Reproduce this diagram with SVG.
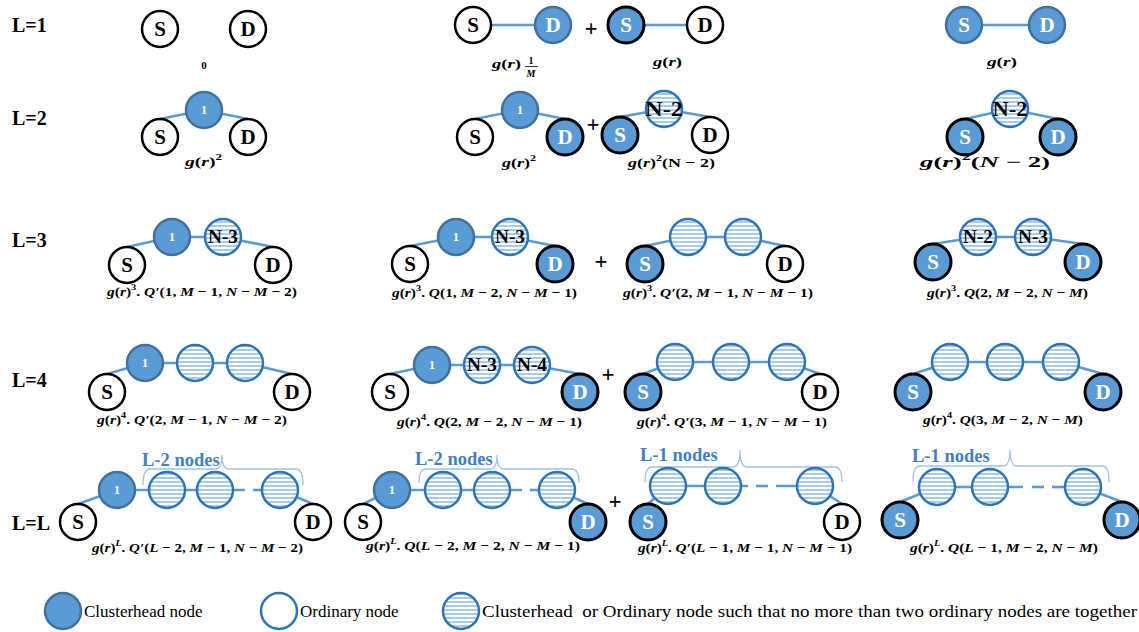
<svg xmlns="http://www.w3.org/2000/svg" width="1139" height="632" viewBox="0 0 1139 632">
<style>
.ch{fill:#5B9BD5;stroke:#41719C;stroke-width:2.5}
.chb{fill:#5B9BD5;stroke:#000;stroke-width:3}
.ob{fill:#fff;stroke:#000;stroke-width:2.5}
.hb{fill:url(#hatch);stroke:#2E75B6;stroke-width:2.5}
.ol{fill:#fff;stroke:#2E75B6;stroke-width:2.5}
#connectors line{stroke:#5B9BD5;stroke-width:2.6}
.brace{fill:none;stroke:#9DC3E6;stroke-width:1.3}
.nt{font-family:"Liberation Serif",serif;font-weight:bold;font-size:21px;text-anchor:middle;fill:#000}
.w{fill:#fff}
.one{font-family:"Liberation Serif",serif;font-weight:bold;font-size:12px;text-anchor:middle;fill:#fff}
.nl{font-family:"Liberation Serif",serif;font-weight:bold;font-size:18px;text-anchor:middle;fill:#000}
.nl2{font-family:"Liberation Serif",serif;font-weight:bold;font-size:20px;text-anchor:middle;fill:#000}
.m{font-family:"Liberation Serif",serif;font-weight:bold;font-size:13.5px;fill:#000}
.i{font-style:italic}
.row{font-family:"Liberation Serif",serif;font-weight:bold;font-size:20px;fill:#000}
.plus{font-family:"Liberation Serif",serif;font-weight:bold;font-size:23px;text-anchor:middle;fill:#000}
.bt{font-family:"Liberation Serif",serif;font-weight:bold;font-size:18.5px;fill:#3F80C6}
.leg{font-family:"Liberation Serif",serif;font-size:17px;fill:#000}
</style>
<defs>
<pattern id="hatch" width="6" height="4" patternUnits="userSpaceOnUse">
<rect width="6" height="4" fill="#fff"/>
<line x1="0" y1="2" x2="6" y2="2" stroke="#8DB8E2" stroke-width="1.5"/>
</pattern>
</defs>
<rect width="1139" height="632" fill="#fff"/>

<g id="row-labels">
<text class="row" x="12" y="32">L=1</text>
<text class="row" x="12" y="125">L=2</text>
<text class="row" x="12" y="247">L=3</text>
<text class="row" x="12" y="387">L=4</text>
<text class="row" x="12" y="530">L=L</text>
</g>

<g id="connectors">
<line x1="473" y1="25" x2="553" y2="25"/>
<line x1="626" y1="25" x2="705" y2="25"/>
<line x1="964" y1="25" x2="1047" y2="25"/>
<line x1="160" y1="119" x2="204" y2="110"/>
<line x1="204" y1="110" x2="248" y2="119"/>
<line x1="475" y1="119" x2="520" y2="110"/>
<line x1="520" y1="110" x2="565" y2="119"/>
<line x1="620" y1="117" x2="664" y2="109"/>
<line x1="664" y1="109" x2="710" y2="117"/>
<line x1="965" y1="119" x2="1010" y2="109"/>
<line x1="1010" y1="109" x2="1058" y2="119"/>
<line x1="127" y1="247" x2="172" y2="237"/>
<line x1="172" y1="237" x2="223" y2="237"/>
<line x1="223" y1="237" x2="273" y2="247"/>
<line x1="410" y1="246" x2="456" y2="237"/>
<line x1="456" y1="237" x2="510" y2="237"/>
<line x1="510" y1="237" x2="555" y2="246"/>
<line x1="645" y1="246" x2="688" y2="237"/>
<line x1="688" y1="237" x2="743" y2="237"/>
<line x1="743" y1="237" x2="785" y2="246"/>
<line x1="933" y1="244" x2="978" y2="237"/>
<line x1="978" y1="237" x2="1033" y2="237"/>
<line x1="1033" y1="237" x2="1083" y2="244"/>
<line x1="107" y1="374" x2="145" y2="363"/>
<line x1="145" y1="363" x2="245" y2="363"/>
<line x1="245" y1="363" x2="292" y2="374"/>
<line x1="390" y1="374" x2="432" y2="365"/>
<line x1="432" y1="365" x2="532" y2="365"/>
<line x1="532" y1="365" x2="580" y2="374"/>
<line x1="643" y1="374" x2="675" y2="362"/>
<line x1="675" y1="362" x2="787" y2="362"/>
<line x1="787" y1="362" x2="820" y2="374"/>
<line x1="913" y1="374" x2="950" y2="362"/>
<line x1="950" y1="362" x2="1061" y2="362"/>
<line x1="1061" y1="362" x2="1103" y2="374"/>
<line x1="78" y1="504" x2="117" y2="490"/>
<line x1="117" y1="490" x2="245" y2="490"/>
<line x1="253" y1="490" x2="280" y2="490"/>
<line x1="280" y1="490" x2="313" y2="504"/>
<line x1="363" y1="504" x2="392" y2="490"/>
<line x1="392" y1="490" x2="522" y2="490"/>
<line x1="530" y1="490" x2="557" y2="490"/>
<line x1="557" y1="490" x2="588" y2="504"/>
<line x1="648" y1="504" x2="668" y2="486"/>
<line x1="668" y1="486" x2="748" y2="486"/>
<line x1="756" y1="486" x2="768" y2="486"/>
<line x1="776" y1="486" x2="815" y2="486"/>
<line x1="815" y1="486" x2="842" y2="504"/>
<line x1="900" y1="502" x2="937" y2="487"/>
<line x1="937" y1="487" x2="1023" y2="487"/>
<line x1="1032" y1="487" x2="1044" y2="487"/>
<line x1="1052" y1="487" x2="1083" y2="487"/>
<line x1="1083" y1="487" x2="1122" y2="502"/>
</g>

<g id="braces">
<path class="brace" d="M143,485 Q143,469 150,469 H215 Q222,469 222,455 Q222,469 229,469 H296 Q303,469 303,485"/>
<text class="bt" x="142" y="466">L-2 nodes</text>
<path class="brace" d="M419,483 Q419,469 426,469 H490 Q497,469 497,455 Q497,469 504,469 H572 Q579,469 579,483"/>
<text class="bt" x="415" y="465">L-2 nodes</text>
<path class="brace" d="M645,482 Q645,467 652,467 H733 Q740,467 740,450 Q740,467 747,467 H835 Q842,467 842,482"/>
<text class="bt" x="640" y="461">L-1 nodes</text>
<path class="brace" d="M913,482 Q913,466 920,466 H1003 Q1010,466 1010,450 Q1010,466 1017,466 H1102 Q1109,466 1109,482"/>
<text class="bt" x="912" y="462">L-1 nodes</text>
</g>

<g id="l1a-S"><circle class="ob" cx="160" cy="29" r="18"/><text class="nt" x="160" y="36">S</text></g>
<g id="l1a-D"><circle class="ob" cx="248" cy="29" r="18"/><text class="nt" x="248" y="36">D</text></g>
<g id="l1b-S"><circle class="ob" cx="473" cy="25" r="18"/><text class="nt" x="473" y="32">S</text></g>
<g id="l1b-D"><circle class="ch" cx="553" cy="25" r="18"/><text class="nt w" x="553" y="32">D</text></g>
<g id="l1c-S"><circle class="chb" cx="626" cy="25" r="18"/><text class="nt w" x="626" y="32">S</text></g>
<g id="l1c-D"><circle class="ob" cx="705" cy="25" r="18"/><text class="nt" x="705" y="32">D</text></g>
<g id="l1d-S"><circle class="ch" cx="964" cy="25" r="18"/><text class="nt w" x="964" y="32">S</text></g>
<g id="l1d-D"><circle class="ch" cx="1047" cy="25" r="18"/><text class="nt w" x="1047" y="32">D</text></g>

<g id="l2a-S"><circle class="ob" cx="160" cy="137" r="18"/><text class="nt" x="160" y="144">S</text></g>
<g id="l2a-1"><circle class="ch" cx="204" cy="110" r="18"/><text class="one" x="204" y="114">1</text></g>
<g id="l2a-D"><circle class="ob" cx="248" cy="137" r="18"/><text class="nt" x="248" y="144">D</text></g>
<g id="l2b-S"><circle class="ob" cx="475" cy="137" r="18"/><text class="nt" x="475" y="144">S</text></g>
<g id="l2b-1"><circle class="ch" cx="520" cy="110" r="18"/><text class="one" x="520" y="114">1</text></g>
<g id="l2b-D"><circle class="chb" cx="565" cy="137" r="18"/><text class="nt w" x="565" y="144">D</text></g>
<g id="l2c-S"><circle class="chb" cx="620" cy="135" r="18"/><text class="nt w" x="620" y="142">S</text></g>
<g id="l2c-N"><circle class="hb" cx="664" cy="109" r="18"/><text class="nl2" x="664" y="116" textLength="38" lengthAdjust="spacingAndGlyphs">N-2</text></g>
<g id="l2c-D"><circle class="ob" cx="710" cy="135" r="18"/><text class="nt" x="710" y="142">D</text></g>
<g id="l2d-S"><circle class="chb" cx="965" cy="137" r="18"/><text class="nt w" x="965" y="144">S</text></g>
<g id="l2d-N"><circle class="hb" cx="1010" cy="109" r="18"/><text class="nl2" x="1010" y="116" textLength="35" lengthAdjust="spacingAndGlyphs">N-2</text></g>
<g id="l2d-D"><circle class="chb" cx="1058" cy="137" r="18"/><text class="nt w" x="1058" y="144">D</text></g>

<g id="l3a-S"><circle class="ob" cx="127" cy="265" r="18"/><text class="nt" x="127" y="272">S</text></g>
<g id="l3a-1"><circle class="ch" cx="172" cy="237" r="18"/><text class="one" x="172" y="241">1</text></g>
<g id="l3a-N"><circle class="hb" cx="223" cy="237" r="18"/><text class="nl" x="223" y="243" textLength="30" lengthAdjust="spacingAndGlyphs">N-3</text></g>
<g id="l3a-D"><circle class="ob" cx="273" cy="265" r="18"/><text class="nt" x="273" y="272">D</text></g>
<g id="l3b-S"><circle class="ob" cx="410" cy="264" r="18"/><text class="nt" x="410" y="271">S</text></g>
<g id="l3b-1"><circle class="ch" cx="456" cy="237" r="18"/><text class="one" x="456" y="241">1</text></g>
<g id="l3b-N"><circle class="hb" cx="510" cy="237" r="18"/><text class="nl" x="510" y="243" textLength="30" lengthAdjust="spacingAndGlyphs">N-3</text></g>
<g id="l3b-D"><circle class="chb" cx="555" cy="264" r="18"/><text class="nt w" x="555" y="271">D</text></g>
<g id="l3c-S"><circle class="chb" cx="645" cy="264" r="18"/><text class="nt w" x="645" y="271">S</text></g>
<g id="l3c-h1"><circle class="hb" cx="688" cy="237" r="18"/></g>
<g id="l3c-h2"><circle class="hb" cx="743" cy="237" r="18"/></g>
<g id="l3c-D"><circle class="ob" cx="785" cy="264" r="18"/><text class="nt" x="785" y="271">D</text></g>
<g id="l3d-S"><circle class="chb" cx="933" cy="262" r="18"/><text class="nt w" x="933" y="269">S</text></g>
<g id="l3d-N2"><circle class="hb" cx="978" cy="237" r="18"/><text class="nl" x="978" y="243" textLength="30" lengthAdjust="spacingAndGlyphs">N-2</text></g>
<g id="l3d-N3"><circle class="hb" cx="1033" cy="237" r="18"/><text class="nl" x="1033" y="243" textLength="30" lengthAdjust="spacingAndGlyphs">N-3</text></g>
<g id="l3d-D"><circle class="chb" cx="1083" cy="262" r="18"/><text class="nt w" x="1083" y="269">D</text></g>

<g id="l4a-S"><circle class="ob" cx="107" cy="392" r="18"/><text class="nt" x="107" y="399">S</text></g>
<g id="l4a-1"><circle class="ch" cx="145" cy="363" r="18"/><text class="one" x="145" y="367">1</text></g>
<g id="l4a-h1"><circle class="hb" cx="195" cy="363" r="18"/></g>
<g id="l4a-h2"><circle class="hb" cx="245" cy="363" r="18"/></g>
<g id="l4a-D"><circle class="ob" cx="292" cy="392" r="18"/><text class="nt" x="292" y="399">D</text></g>
<g id="l4b-S"><circle class="ob" cx="390" cy="392" r="18"/><text class="nt" x="390" y="399">S</text></g>
<g id="l4b-1"><circle class="ch" cx="432" cy="365" r="18"/><text class="one" x="432" y="369">1</text></g>
<g id="l4b-N3"><circle class="hb" cx="482" cy="365" r="18"/><text class="nl" x="482" y="371" textLength="30" lengthAdjust="spacingAndGlyphs">N-3</text></g>
<g id="l4b-N4"><circle class="hb" cx="532" cy="365" r="18"/><text class="nl" x="532" y="371" textLength="30" lengthAdjust="spacingAndGlyphs">N-4</text></g>
<g id="l4b-D"><circle class="chb" cx="580" cy="392" r="18"/><text class="nt w" x="580" y="399">D</text></g>
<g id="l4c-S"><circle class="chb" cx="643" cy="392" r="18"/><text class="nt w" x="643" y="399">S</text></g>
<g id="l4c-h1"><circle class="hb" cx="675" cy="362" r="18"/></g>
<g id="l4c-h2"><circle class="hb" cx="731" cy="362" r="18"/></g>
<g id="l4c-h3"><circle class="hb" cx="787" cy="362" r="18"/></g>
<g id="l4c-D"><circle class="ob" cx="820" cy="392" r="18"/><text class="nt" x="820" y="399">D</text></g>
<g id="l4d-S"><circle class="chb" cx="913" cy="392" r="18"/><text class="nt w" x="913" y="399">S</text></g>
<g id="l4d-h1"><circle class="hb" cx="950" cy="362" r="18"/></g>
<g id="l4d-h2"><circle class="hb" cx="1005" cy="362" r="18"/></g>
<g id="l4d-h3"><circle class="hb" cx="1061" cy="362" r="18"/></g>
<g id="l4d-D"><circle class="chb" cx="1103" cy="392" r="18"/><text class="nt w" x="1103" y="399">D</text></g>

<g id="lLa-S"><circle class="ob" cx="78" cy="522" r="18"/><text class="nt" x="78" y="529">S</text></g>
<g id="lLa-1"><circle class="ch" cx="117" cy="490" r="18"/><text class="one" x="117" y="494">1</text></g>
<g id="lLa-h1"><circle class="hb" cx="167" cy="490" r="18"/></g>
<g id="lLa-h2"><circle class="hb" cx="215" cy="490" r="18"/></g>
<g id="lLa-h3"><circle class="hb" cx="280" cy="490" r="18"/></g>
<g id="lLa-D"><circle class="ob" cx="313" cy="522" r="18"/><text class="nt" x="313" y="529">D</text></g>
<g id="lLb-S"><circle class="ob" cx="363" cy="522" r="18"/><text class="nt" x="363" y="529">S</text></g>
<g id="lLb-1"><circle class="ch" cx="392" cy="490" r="18"/><text class="one" x="392" y="494">1</text></g>
<g id="lLb-h1"><circle class="hb" cx="443" cy="490" r="18"/></g>
<g id="lLb-h2"><circle class="hb" cx="492" cy="490" r="18"/></g>
<g id="lLb-h3"><circle class="hb" cx="557" cy="490" r="18"/></g>
<g id="lLb-D"><circle class="chb" cx="588" cy="522" r="18"/><text class="nt w" x="588" y="529">D</text></g>
<g id="lLc-S"><circle class="chb" cx="648" cy="522" r="18"/><text class="nt w" x="648" y="529">S</text></g>
<g id="lLc-h1"><circle class="hb" cx="668" cy="486" r="18"/></g>
<g id="lLc-h2"><circle class="hb" cx="723" cy="486" r="18"/></g>
<g id="lLc-h3"><circle class="hb" cx="815" cy="486" r="18"/></g>
<g id="lLc-D"><circle class="ob" cx="842" cy="522" r="18"/><text class="nt" x="842" y="529">D</text></g>
<g id="lLd-S"><circle class="chb" cx="900" cy="520" r="18"/><text class="nt w" x="900" y="527">S</text></g>
<g id="lLd-h1"><circle class="hb" cx="937" cy="487" r="18"/></g>
<g id="lLd-h2"><circle class="hb" cx="990" cy="487" r="18"/></g>
<g id="lLd-h3"><circle class="hb" cx="1083" cy="487" r="18"/></g>
<g id="lLd-D"><circle class="chb" cx="1122" cy="520" r="18"/><text class="nt w" x="1122" y="527">D</text></g>

<g id="plus-signs">
<text class="plus" x="591" y="36">+</text>
<text class="plus" x="593" y="132">+</text>
<text class="plus" x="601" y="269">+</text>
<text class="plus" x="608" y="382">+</text>
<text class="plus" x="615" y="509">+</text>
</g>

<g id="formulas">
<text class="m" x="204" y="69" text-anchor="middle" style="font-size:11px">0</text>
<text class="m" x="492" y="68" textLength="29" lengthAdjust="spacingAndGlyphs"><tspan class="i">g</tspan>(<tspan class="i">r</tspan>)</text>
<text class="m" x="531" y="64" text-anchor="middle" style="font-size:10px">1</text>
<line x1="525" y1="66.5" x2="538" y2="66.5" stroke="#000" stroke-width="0.8"/>
<text class="m" x="531" y="77" text-anchor="middle" style="font-size:10px"><tspan class="i">M</tspan></text>
<text class="m" x="653" y="66" textLength="29" lengthAdjust="spacingAndGlyphs"><tspan class="i">g</tspan>(<tspan class="i">r</tspan>)</text>
<text class="m" x="987" y="66" textLength="30" lengthAdjust="spacingAndGlyphs"><tspan class="i">g</tspan>(<tspan class="i">r</tspan>)</text>

<text class="m" x="185" y="166" textLength="37" lengthAdjust="spacingAndGlyphs"><tspan class="i">g</tspan>(<tspan class="i">r</tspan>)<tspan font-size="9" dy="-6">2</tspan></text>
<text class="m" x="502" y="167" textLength="34" lengthAdjust="spacingAndGlyphs"><tspan class="i">g</tspan>(<tspan class="i">r</tspan>)<tspan font-size="9" dy="-6">2</tspan></text>
<text class="m" x="628" y="167" textLength="87" lengthAdjust="spacingAndGlyphs"><tspan class="i">g</tspan>(<tspan class="i">r</tspan>)<tspan font-size="9" dy="-6">2</tspan><tspan dy="6">(N − 2)</tspan></text>
<text class="m" x="920" y="167" style="font-size:15px" textLength="130" lengthAdjust="spacingAndGlyphs"><tspan class="i">g</tspan>(<tspan class="i">r</tspan>)<tspan font-size="10" dy="-7">2</tspan><tspan dy="7">(</tspan><tspan class="i">N</tspan> − 2)</text>

<text class="m" x="107" y="296" textLength="190" lengthAdjust="spacingAndGlyphs"><tspan class="i">g</tspan>(<tspan class="i">r</tspan>)<tspan font-size="9" dy="-6">3</tspan><tspan dy="6">. </tspan><tspan class="i">Q′</tspan>(1, <tspan class="i">M</tspan> − 1, <tspan class="i">N</tspan> − <tspan class="i">M</tspan> − 2)</text>
<text class="m" x="392" y="297" textLength="185" lengthAdjust="spacingAndGlyphs"><tspan class="i">g</tspan>(<tspan class="i">r</tspan>)<tspan font-size="9" dy="-6">3</tspan><tspan dy="6">. </tspan><tspan class="i">Q</tspan>(1, <tspan class="i">M</tspan> − 2, <tspan class="i">N</tspan> − <tspan class="i">M</tspan> − 1)</text>
<text class="m" x="623" y="297" textLength="190" lengthAdjust="spacingAndGlyphs"><tspan class="i">g</tspan>(<tspan class="i">r</tspan>)<tspan font-size="9" dy="-6">3</tspan><tspan dy="6">. </tspan><tspan class="i">Q′</tspan>(2, <tspan class="i">M</tspan> − 1, <tspan class="i">N</tspan> − <tspan class="i">M</tspan> − 1)</text>
<text class="m" x="927" y="297" textLength="161" lengthAdjust="spacingAndGlyphs"><tspan class="i">g</tspan>(<tspan class="i">r</tspan>)<tspan font-size="9" dy="-6">3</tspan><tspan dy="6">. </tspan><tspan class="i">Q</tspan>(2, <tspan class="i">M</tspan> − 2, <tspan class="i">N</tspan> − <tspan class="i">M</tspan>)</text>

<text class="m" x="97" y="424" textLength="190" lengthAdjust="spacingAndGlyphs"><tspan class="i">g</tspan>(<tspan class="i">r</tspan>)<tspan font-size="9" dy="-6">4</tspan><tspan dy="6">. </tspan><tspan class="i">Q′</tspan>(2, <tspan class="i">M</tspan> − 1, <tspan class="i">N</tspan> − <tspan class="i">M</tspan> − 2)</text>
<text class="m" x="397" y="426" textLength="185" lengthAdjust="spacingAndGlyphs"><tspan class="i">g</tspan>(<tspan class="i">r</tspan>)<tspan font-size="9" dy="-6">4</tspan><tspan dy="6">. </tspan><tspan class="i">Q</tspan>(2, <tspan class="i">M</tspan> − 2, <tspan class="i">N</tspan> − <tspan class="i">M</tspan> − 1)</text>
<text class="m" x="637" y="426" textLength="190" lengthAdjust="spacingAndGlyphs"><tspan class="i">g</tspan>(<tspan class="i">r</tspan>)<tspan font-size="9" dy="-6">4</tspan><tspan dy="6">. </tspan><tspan class="i">Q′</tspan>(3, <tspan class="i">M</tspan> − 1, <tspan class="i">N</tspan> − <tspan class="i">M</tspan> − 1)</text>
<text class="m" x="923" y="424" textLength="160" lengthAdjust="spacingAndGlyphs"><tspan class="i">g</tspan>(<tspan class="i">r</tspan>)<tspan font-size="9" dy="-6">4</tspan><tspan dy="6">. </tspan><tspan class="i">Q</tspan>(3, <tspan class="i">M</tspan> − 2, <tspan class="i">N</tspan> − <tspan class="i">M</tspan>)</text>

<text class="m" x="92" y="552" textLength="211" lengthAdjust="spacingAndGlyphs"><tspan class="i">g</tspan>(<tspan class="i">r</tspan>)<tspan class="i" font-size="9" dy="-6">L</tspan><tspan dy="6">. </tspan><tspan class="i">Q′</tspan>(<tspan class="i">L</tspan> − 2, <tspan class="i">M</tspan> − 1, <tspan class="i">N</tspan> − <tspan class="i">M</tspan> − 2)</text>
<text class="m" x="366" y="550" textLength="214" lengthAdjust="spacingAndGlyphs"><tspan class="i">g</tspan>(<tspan class="i">r</tspan>)<tspan class="i" font-size="9" dy="-6">L</tspan><tspan dy="6">. </tspan><tspan class="i">Q</tspan>(<tspan class="i">L</tspan> − 2, <tspan class="i">M</tspan> − 2, <tspan class="i">N</tspan> − <tspan class="i">M</tspan> − 1)</text>
<text class="m" x="638" y="552" textLength="214" lengthAdjust="spacingAndGlyphs"><tspan class="i">g</tspan>(<tspan class="i">r</tspan>)<tspan class="i" font-size="9" dy="-6">L</tspan><tspan dy="6">. </tspan><tspan class="i">Q′</tspan>(<tspan class="i">L</tspan> − 1, <tspan class="i">M</tspan> − 1, <tspan class="i">N</tspan> − <tspan class="i">M</tspan> − 1)</text>
<text class="m" x="910" y="552" textLength="188" lengthAdjust="spacingAndGlyphs"><tspan class="i">g</tspan>(<tspan class="i">r</tspan>)<tspan class="i" font-size="9" dy="-6">L</tspan><tspan dy="6">. </tspan><tspan class="i">Q</tspan>(<tspan class="i">L</tspan> − 1, <tspan class="i">M</tspan> − 2, <tspan class="i">N</tspan> − <tspan class="i">M</tspan>)</text>
</g>

<g id="legend-clusterhead"><circle class="ch" cx="63" cy="611" r="18"/><text class="leg" x="84" y="617">Clusterhead node</text></g>
<g id="legend-ordinary"><circle class="ol" cx="279" cy="611" r="18"/><text class="leg" x="300" y="617">Ordinary node</text></g>
<g id="legend-either"><circle class="hb" cx="461" cy="611" r="18"/><text class="leg" x="482" y="617" textLength="655" lengthAdjust="spacingAndGlyphs" xml:space="preserve">Clusterhead  or Ordinary node such that no more than two ordinary nodes are together</text></g>
</svg>
